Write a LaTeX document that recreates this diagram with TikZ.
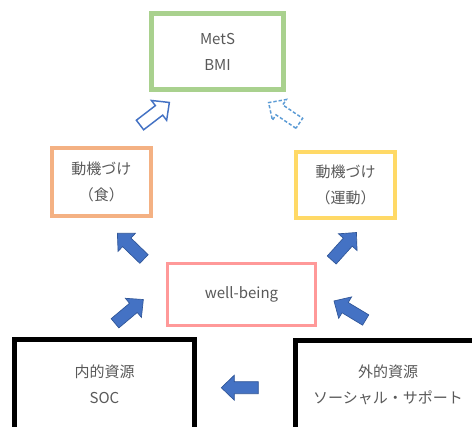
\documentclass[tikz,border=0pt]{standalone}
\usepackage{fontspec}
\setmainfont{Noto Sans CJK JP}
\definecolor{txtgray}{HTML}{595959}
\definecolor{cgreen}{HTML}{A9D18E}
\definecolor{corange}{HTML}{F4B183}
\definecolor{cyellow}{HTML}{FFD966}
\definecolor{cpink}{HTML}{FF9999}
\definecolor{afill}{HTML}{4472C4}
\definecolor{aline}{HTML}{2F5597}
\definecolor{alight}{HTML}{5B9BD5}
\begin{document}
\begin{tikzpicture}[x=0.75pt,y=-0.75pt,
  box/.style={draw, rectangle, inner sep=0pt, align=center, text=txtgray,
    font=\fontsize{11.25}{19.5}\selectfont},
  lbl/.style={inner sep=0pt, align=center, text=txtgray,
    font=\fontsize{11.25}{19.5}\selectfont},
  solidarrow/.style={fill=afill, draw=aline, line width=0.5pt, line join=miter},
  hollowarrow/.style={fill=white, draw=afill, line width=1.1pt, line join=miter},
  dasharrow/.style={fill=white, draw=alight, line width=1.1pt, dash pattern=on 2.5pt off 1.5pt, line join=miter},
  pics/blockarrow/.style={code={
    \path[pic actions] (0,-6) -- (24,-6) -- (24,-12.5) -- (37,0) -- (24,12.5) -- (24,6) -- (0,6) -- cycle;
  }}
]
\useasboundingbox (0,0) rectangle (472,427);
\clip (0,0) rectangle (472,427);
\fill[white] (0,0) rectangle (472,427);

% boxes
\node[box, draw=cgreen, line width=3.75pt, minimum width=99pt, minimum height=57pt]
  (mets) at (217.5,51.5) {MetS\\BMI};
\node[box, draw=corange, line width=3pt, minimum width=74.25pt, minimum height=51pt]
  (food) at (101.5,182) {動機づけ\\（食）};
\node[box, draw=cyellow, line width=3pt, minimum width=74.25pt, minimum height=49.5pt]
  (exer) at (345.5,185) {動機づけ\\（運動）};
\node[box, draw=cpink, line width=2.25pt, minimum width=111pt, minimum height=46.5pt]
  (wb) at (241.5,294.5) {well-being};
\node[box, draw=black, line width=3.75pt, minimum width=135pt, minimum height=69pt]
  (inner) at (104.5,385.5) {};
\node[lbl] (innerlbl) at (104.5,384.5) {内的資源\\SOC};
\node[box, draw=black, line width=3.75pt, minimum width=138.75pt, minimum height=69pt]
  (outer) at (388,386.5) {};
\node[lbl] (outerlbl) at (388,384.5) {外的資源\\ソーシャル・サポート};

% arrow anchors (tails)
\coordinate (a1) at (144,259);
\coordinate (a2) at (331.7,260);
\coordinate (a3) at (115,323.3);
\coordinate (a4) at (365.7,320);
\coordinate (a5) at (258.3,387.7);
\coordinate (a6) at (140,125);
\coordinate (a7) at (299.3,123.3);

\pic[solidarrow, rotate=136] at (a1) {blockarrow};
\pic[solidarrow, rotate=48] at (a2) {blockarrow};
\pic[solidarrow, rotate=40] at (a3) {blockarrow};
\pic[solidarrow, rotate=149] at (a4) {blockarrow};
\pic[solidarrow, rotate=180] at (a5) {blockarrow};
\pic[hollowarrow, rotate=37.5] at (a6) {blockarrow};
\pic[dasharrow, rotate=146] at (a7) {blockarrow};
\end{tikzpicture}
\end{document}
